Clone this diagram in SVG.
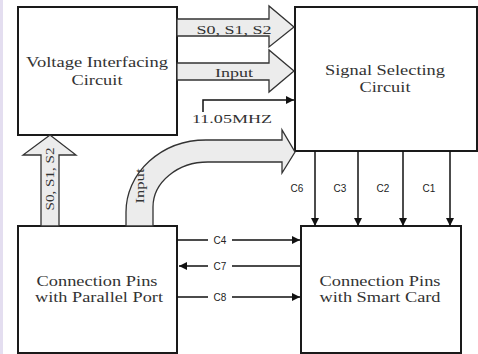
<svg xmlns="http://www.w3.org/2000/svg" width="478" height="354" viewBox="0 0 478 354">
<style>
.box{fill:#fff;stroke:#1a1a1a;stroke-width:2}
.bt{font-family:"Liberation Serif","Times New Roman",serif;font-size:15px;fill:#333;text-anchor:middle}
.fat{fill:#ececec;stroke:#333;stroke-width:1.3}
.fl{font-family:"Liberation Serif","Times New Roman",serif;font-size:12.5px;fill:#333;text-anchor:middle}
.ln{stroke:#111;stroke-width:1.5;fill:none}
.cl{font-family:"Liberation Sans",Arial,sans-serif;font-size:10px;fill:#222;text-anchor:middle}
</style>
<defs>
<marker id="ah" viewBox="0 0 10 10" refX="10" refY="5" markerWidth="8" markerHeight="8" markerUnits="userSpaceOnUse" orient="auto">
<path d="M0,0 L10,5 L0,10 z" fill="#111"/>
</marker>
</defs>
<rect x="0" y="0" width="3" height="354" fill="#e4def0"/>
<g id="voltage">
<rect class="box" x="18" y="7" width="159" height="128"/>
<text class="bt" x="97" y="67" textLength="142" lengthAdjust="spacingAndGlyphs">Voltage Interfacing</text>
<text class="bt" x="97" y="85" textLength="51" lengthAdjust="spacingAndGlyphs">Circuit</text>
</g>
<g id="signal">
<rect class="box" x="295" y="7" width="182" height="144"/>
<text class="bt" x="385" y="75" textLength="120" lengthAdjust="spacingAndGlyphs">Signal Selecting</text>
<text class="bt" x="385" y="92" textLength="51" lengthAdjust="spacingAndGlyphs">Circuit</text>
</g>
<g id="parallel">
<rect class="box" x="18" y="226" width="159" height="127"/>
<text class="bt" x="97" y="286" textLength="121" lengthAdjust="spacingAndGlyphs">Connection Pins</text>
<text class="bt" x="99" y="302" textLength="128" lengthAdjust="spacingAndGlyphs">with Parallel Port</text>
</g>
<g id="smartcard">
<rect class="box" x="301" y="226" width="160" height="127"/>
<text class="bt" x="380" y="286" textLength="121" lengthAdjust="spacingAndGlyphs">Connection Pins</text>
<text class="bt" x="380" y="302" textLength="121" lengthAdjust="spacingAndGlyphs">with Smart Card</text>
</g>
<g id="connectors">
<path class="fat" d="M177,19 L269,19 L269,6 L294,27 L269,47 L269,36 L177,36 z"/>
<text class="fl" x="234" y="34" textLength="75" lengthAdjust="spacingAndGlyphs">S0, S1, S2</text>
<path class="fat" d="M177,63 L269,63 L269,50 L294,71 L269,92 L269,80 L177,80 z"/>
<text class="fl" x="234" y="77" textLength="38" lengthAdjust="spacingAndGlyphs">Input</text>
<path class="ln" d="M203,112 L203,100 L294,100" marker-end="url(#ah)"/>
<text class="fl" x="232" y="123" textLength="80" lengthAdjust="spacingAndGlyphs">11.05MHZ</text>
<path class="fat" d="M41,226 L41,155 L23,155 L50,135 L76,155 L59,155 L59,226 z"/>
<text class="fl" transform="translate(54,179) rotate(-90)" textLength="63" lengthAdjust="spacingAndGlyphs">S0, S1, S2</text>
<path class="fat" d="M126,226 L126,212 A80,72 0 0 1 206,140 L282,140 L282,130 L295,152 L282,173 L282,162 L208,162 A55,45 0 0 0 153,207 L153,226 z"/>
<text class="fl" transform="translate(144,186) rotate(-90)" textLength="35" lengthAdjust="spacingAndGlyphs">Input</text>
<path class="ln" d="M315,151 L315,226" marker-end="url(#ah)"/>
<path class="ln" d="M358,151 L358,226" marker-end="url(#ah)"/>
<path class="ln" d="M403,151 L403,226" marker-end="url(#ah)"/>
<path class="ln" d="M450,151 L450,226" marker-end="url(#ah)"/>
<text class="cl" x="297" y="192">C6</text>
<text class="cl" x="340" y="192">C3</text>
<text class="cl" x="383" y="192">C2</text>
<text class="cl" x="429" y="192">C1</text>
<path class="ln" d="M177,240 L208,240 M232,240 L300,240" marker-end="url(#ah)"/>
<text class="cl" x="220" y="244">C4</text>
<path class="ln" d="M300,266 L232,266 M208,266 L179,266" marker-end="url(#ah)"/>
<text class="cl" x="220" y="270">C7</text>
<path class="ln" d="M177,297 L208,297 M232,297 L300,297" marker-end="url(#ah)"/>
<text class="cl" x="220" y="301">C8</text>
</g>
</svg>
